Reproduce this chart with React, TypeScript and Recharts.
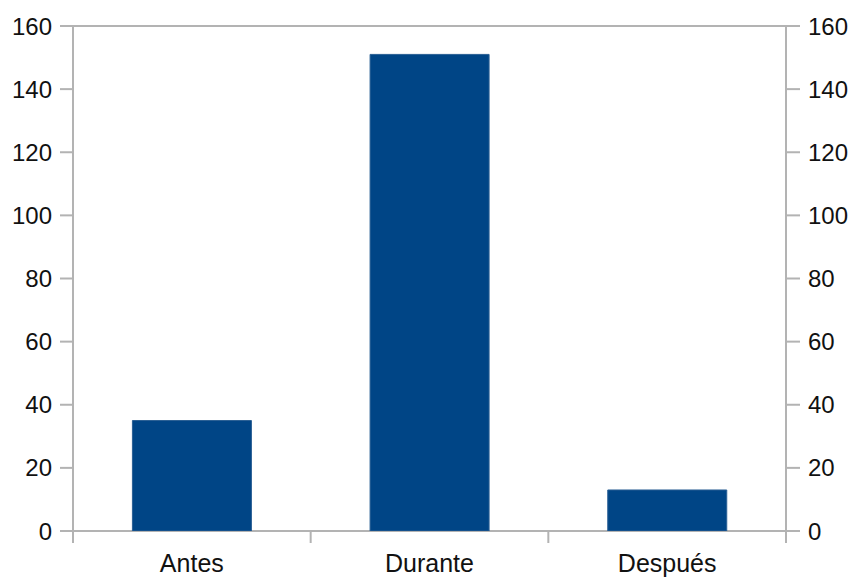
import React from "react";
import {
  BarChart,
  Bar,
  XAxis,
  YAxis,
  CartesianGrid,
} from "recharts";

// categorías y valores
const categorias = ["Antes", "Durante", "Después"];
const valores = [35, 151, 13];
const ticksY = [0, 20, 40, 60, 80, 100, 120, 140, 160];

const data = categorias.map((c, i) => ({ name: c, valor: valores[i] }));

const GRID = "#b3b3b3";
const FONT = "'Liberation Sans', Arial, sans-serif";

// tick del eje X: texto centrado + marcas en los límites de cada categoría
function CategoryTick(props: any) {
  const { x, y, payload, index, width, visibleTicksCount } = props;
  const half = width / visibleTicksCount / 2;
  return (
    <g>
      <line x1={x - half} y1={y} x2={x - half} y2={y + 12} stroke={GRID} strokeWidth={2} />
      {index === visibleTicksCount - 1 && (
        <line x1={x + half} y1={y} x2={x + half} y2={y + 12} stroke={GRID} strokeWidth={2} />
      )}
      <text x={x} y={y + 41} textAnchor="middle" fill="#111" fontSize={25} fontFamily={FONT}>
        {payload.value}
      </text>
    </g>
  );
}

export default function App() {
  return (
    <div style={{ position: "absolute", left: 0, top: 0, width: 851, height: 578, background: "#fff" }}>
      <BarChart
        width={851}
        height={578}
        data={data}
        margin={{ top: 26, right: 0, bottom: 0, left: 0 }}
        barCategoryGap="25%"
      >
        <CartesianGrid vertical={false} stroke={GRID} strokeWidth={2} />
        <XAxis
          dataKey="name"
          height={47}
          axisLine={false}
          tickLine={false}
          tickSize={0}
          tickMargin={0}
          interval={0}
          tick={<CategoryTick />}
        />
        <YAxis
          yAxisId="left"
          type="number"
          width={73}
          domain={[0, 160]}
          ticks={ticksY}
          interval={0}
          allowDataOverflow
          axisLine={{ stroke: GRID, strokeWidth: 2 }}
          tickLine={{ stroke: GRID, strokeWidth: 2 }}
          tickSize={13}
          tickMargin={8}
          tick={{ fill: "#111", fontSize: 24, fontFamily: FONT }}
        />
        <YAxis
          yAxisId="right"
          type="number"
          orientation="right"
          width={65}
          domain={[0, 160]}
          ticks={ticksY}
          interval={0}
          allowDataOverflow
          axisLine={{ stroke: GRID, strokeWidth: 2 }}
          tickLine={{ stroke: GRID, strokeWidth: 2 }}
          tickSize={14}
          tickMargin={8}
          tick={{ fill: "#111", fontSize: 24, fontFamily: FONT }}
        />
        <Bar
          yAxisId="left"
          dataKey="valor"
          fill="#004586"
          stroke="#2a5f94"
          strokeWidth={1}
          isAnimationActive={false}
        />
      </BarChart>
    </div>
  );
}
